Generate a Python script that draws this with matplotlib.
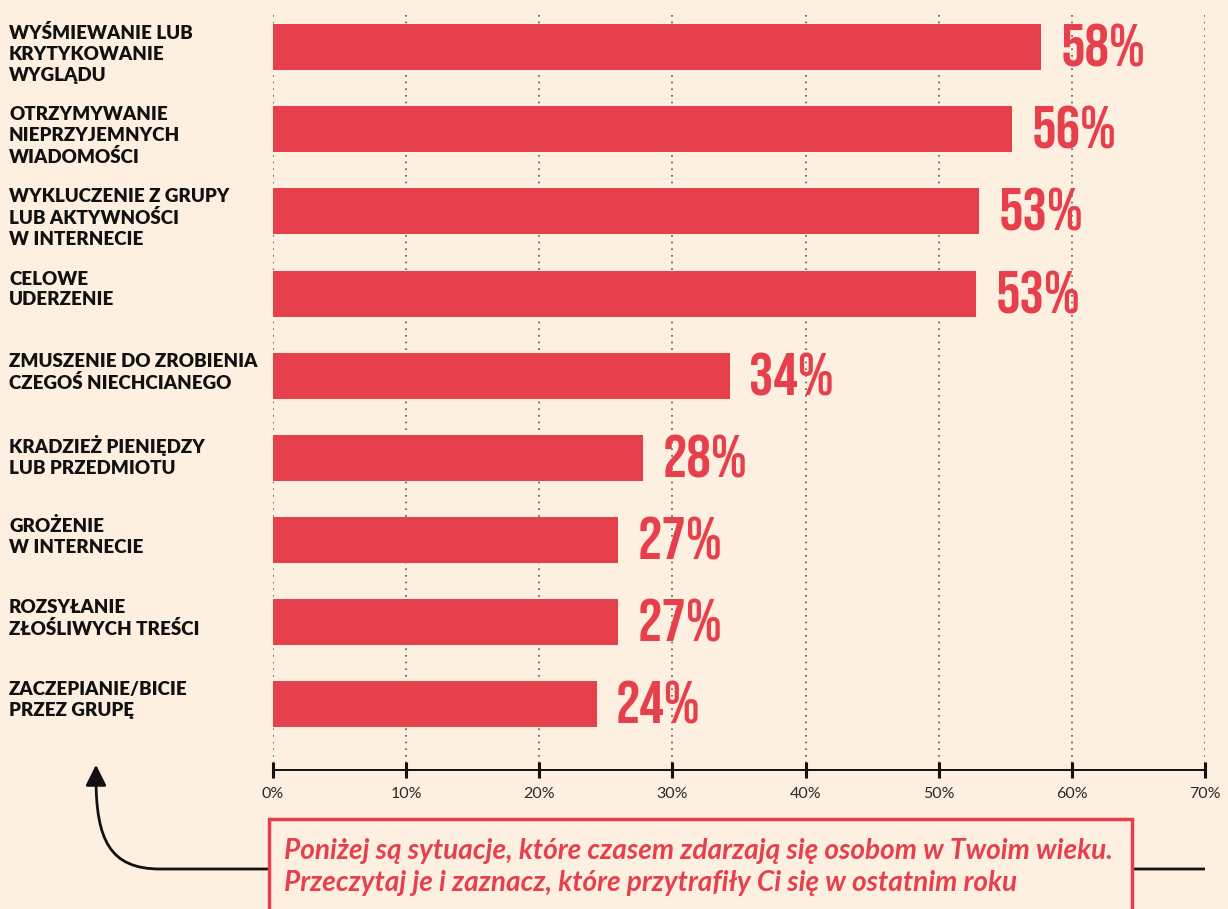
import matplotlib
matplotlib.use("Agg")
import matplotlib.pyplot as plt
from matplotlib.patches import Rectangle, FancyArrowPatch, PathPatch
from matplotlib.path import Path
import matplotlib.transforms as mtransforms

# data
categories = [
    "WYŚMIEWANIE LUB\nKRYTYKOWANIE\nWYGLĄDU",
    "OTRZYMYWANIE\nNIEPRZYJEMNYCH\nWIADOMOŚCI",
    "WYKLUCZENIE Z GRUPY\nLUB AKTYWNOŚCI\nW INTERNECIE",
    "CELOWE\nUDERZENIE",
    "ZMUSZENIE DO ZROBIENIA\nCZEGOŚ NIECHCIANEGO",
    "KRADZIEŻ PIENIĘDZY\nLUB PRZEDMIOTU",
    "GROŻENIE\nW INTERNECIE",
    "ROZSYŁANIE\nZŁOŚLIWYCH TREŚCI",
    "ZACZEPIANIE/BICIE\nPRZEZ GRUPĘ",
]
bar_values = [57.7, 55.5, 53.0, 52.8, 34.3, 27.8, 25.9, 25.9, 24.3]
value_labels = ["58%", "56%", "53%", "53%", "34%", "28%", "27%", "27%", "24%"]
x_ticks = [0, 10, 20, 30, 40, 50, 60, 70]
x_ticklabels = ["0%", "10%", "20%", "30%", "40%", "50%", "60%", "70%"]
note = ("Poniżej są sytuacje, które czasem zdarzają się osobom w Twoim wieku.\n"
        "Przeczytaj je i zaznacz, które przytrafiły Ci się w ostatnim roku")

BG = "#FDF0E1"
RED = "#E6404D"
narrow = ["Bebas Neue", "Oswald", "DejaVu Sans"]
lato = ["Lato", "DejaVu Sans"]

fig = plt.figure(figsize=(12.28, 9.09), dpi=100, facecolor=BG)
ax = fig.add_axes([0.2223, 0.1529, 0.759, 0.836])
ax.set_facecolor(BG)

ypos = list(range(len(categories)))
ax.barh(ypos, bar_values, height=0.56, color=RED, zorder=2)
ax.set_xlim(0, 70)
ax.set_ylim(8.8, -0.45)

ax.xaxis.grid(True, linestyle=(0, (1, 3)), color="#555555", linewidth=1.2, zorder=0)
ax.set_axisbelow(True)
for s in ["left", "right", "top"]:
    ax.spines[s].set_visible(False)
ax.spines["bottom"].set_linewidth(1.4)
ax.spines["bottom"].set_color("#111111")
ax.set_yticks([])
ax.set_xticks(x_ticks)
ax.set_xticklabels(x_ticklabels, family=lato, fontsize=11.5, color="#2a2a2a")
ax.tick_params(axis="x", direction="inout", length=11, width=2.2, color="#111111", pad=7)

# value labels
for y, v, lab in zip(ypos, bar_values, value_labels):
    ax.annotate(lab, (v, y), xytext=(14, 1), textcoords="offset points",
                ha="left", va="center", family=narrow, fontsize=44, color=RED)

# category labels, top aligned with the bars
trans = mtransforms.blended_transform_factory(fig.transFigure, ax.transData)
for y, cat in zip(ypos, categories):
    ax.text(9 / 1228, y - 0.28, cat, transform=trans, ha="left", va="top",
            family=lato, fontweight="heavy", fontsize=13.5,
            color="#111111", linespacing=1.27)

# curved arrow pointing up at the categories
W, H = 1228.0, 909.0
def fp(x, y):
    return (x / W, 1 - y / H)
verts = [fp(1205, 869), fp(160, 869), fp(110, 869), fp(96, 840), fp(96, 778)]
codes = [Path.MOVETO, Path.LINETO, Path.CURVE4, Path.CURVE4, Path.CURVE4]
fig.patches.append(PathPatch(Path(verts, codes), transform=fig.transFigure,
                             fill=False, edgecolor="#111111", linewidth=2))
fig.patches.append(FancyArrowPatch(fp(96, 780), fp(96, 762), transform=fig.transFigure,
                                   arrowstyle="-|>,head_length=0.9,head_width=0.45",
                                   mutation_scale=14, color="#111111", linewidth=2))

# note box
fig.patches.append(Rectangle(fp(269, 930), (1132 - 269) / W, (930 - 819) / H,
                             transform=fig.transFigure, facecolor=BG,
                             edgecolor=RED, linewidth=2.5, zorder=5))
fig.text(284 / W, 1 - 838 / H, note, ha="left", va="top", family=lato,
         style="italic", fontweight="bold", fontsize=20.2, color=RED,
         linespacing=1.27, zorder=6)

fig.savefig("out.png", dpi=100, facecolor=BG)
